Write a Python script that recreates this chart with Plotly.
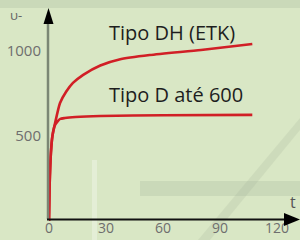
import plotly.graph_objects as go

# ---- data ----
t_dh = [0, 0.3, 1.0, 1.8, 3.2, 5.8, 9, 12.6, 18, 27, 37, 53, 80, 107]
v_dh = [0, 200, 400, 500, 576, 694, 760, 812, 860, 915, 950, 976, 1006, 1041]

t_d = [0, 0.3, 1.0, 1.8, 3.2, 5.8, 8.4, 14, 27, 60, 107]
v_d = [0, 200, 400, 500, 565, 600, 606, 612, 618, 622, 624]

x_ticks = [0, 30, 60, 90, 120]
y_ticks = [500, 1000]
label_dh = "Tipo DH (ETK)"
label_d = "Tipo D até 600"

W, H = 300, 240
L, R, T, B = 49, 4, 0, 19
RED = "#d11f26"
BG = "#d9e7c5"


def px(xp):
    return (xp - L) / (W - L - R)


def py(yp):
    return (H - B - yp) / (H - T - B)


fig = go.Figure()
fig.add_trace(go.Scatter(x=t_dh, y=v_dh, mode="lines",
                         line=dict(color=RED, width=2.6, shape="spline", smoothing=0.6),
                         hoverinfo="skip"))
fig.add_trace(go.Scatter(x=t_d, y=v_d, mode="lines",
                         line=dict(color=RED, width=2.6, shape="spline", smoothing=0.6),
                         hoverinfo="skip"))

shapes = []
# faint background texture
shapes.append(dict(type="rect", xref="paper", yref="paper", x0=px(0), x1=px(300),
                   y0=py(8), y1=py(0), fillcolor="rgba(170,185,160,0.3)", line_width=0, layer="below"))
shapes.append(dict(type="rect", xref="paper", yref="paper", x0=px(140), x1=px(300),
                   y0=py(196), y1=py(181), fillcolor="rgba(160,175,150,0.25)", line_width=0, layer="below"))
shapes.append(dict(type="path", xref="paper", yref="paper",
                   path=f"M {px(198)} {py(240)} L {px(300)} {py(118)} L {px(300)} {py(130)} L {px(210)} {py(240)} Z",
                   fillcolor="rgba(160,175,150,0.2)", line_width=0, layer="below"))
shapes.append(dict(type="rect", xref="paper", yref="paper", x0=px(92), x1=px(97),
                   y0=py(240), y1=py(160), fillcolor="rgba(255,255,255,0.3)", line_width=0, layer="below"))
# y axis line and arrow
shapes.append(dict(type="line", xref="paper", yref="paper", x0=px(48), x1=px(48),
                   y0=py(219), y1=py(22), line=dict(color="#7b8774", width=2.5)))
shapes.append(dict(type="path", xref="paper", yref="paper",
                   path=f"M {px(48.5)} {py(8)} L {px(53.5)} {py(24)} L {px(43.5)} {py(24)} Z",
                   fillcolor="#000000", line_width=0))
# x axis line and arrow
shapes.append(dict(type="line", xref="paper", yref="paper", x0=px(47), x1=px(287),
                   y0=py(219.5), y1=py(219.5), line=dict(color="#111111", width=2)))
shapes.append(dict(type="path", xref="paper", yref="paper",
                   path=f"M {px(300)} {py(219.5)} L {px(284)} {py(213)} L {px(284)} {py(226)} Z",
                   fillcolor="#000000", line_width=0))

annotations = [
    dict(x=t_dh[9] + 3.5, y=1106, xref="x", yref="y", text=label_dh, showarrow=False,
         xanchor="left", yanchor="middle",
         font=dict(family="Open Sans", size=20, color="#1e1e1e")),
    dict(x=t_dh[9] + 3.5, y=747, xref="x", yref="y", text=label_d, showarrow=False,
         xanchor="left", yanchor="middle",
         font=dict(family="Open Sans", size=20, color="#1e1e1e")),
    dict(x=px(293), y=py(202), xref="paper", yref="paper", text="t", showarrow=False,
         xanchor="center", yanchor="middle",
         font=dict(family="Open Sans", size=16, color="#555555")),
    dict(x=px(16), y=py(15), xref="paper", yref="paper", text="υ-", showarrow=False,
         xanchor="center", yanchor="middle",
         font=dict(family="Open Sans", size=13, color="#666666")),
]

fig.update_layout(
    width=W, height=H,
    margin=dict(l=L, r=R, t=T, b=B, pad=0, autoexpand=False),
    paper_bgcolor=BG, plot_bgcolor=BG,
    showlegend=False,
    shapes=shapes,
    annotations=annotations,
    xaxis=dict(range=[0, 130], tickvals=x_ticks, ticktext=[str(v) for v in x_ticks],
               showgrid=False, zeroline=False, showline=False, automargin=False,
               ticks="", ticklabelstandoff=-3,
               tickfont=dict(family="Open Sans", size=14, color="#6e6e6e")),
    yaxis=dict(range=[0, 1300], tickvals=y_ticks, ticktext=[str(v) for v in y_ticks],
               showgrid=False, zeroline=False, showline=False, automargin=False,
               ticks="outside", ticklen=4, tickcolor="rgba(0,0,0,0)",
               tickfont=dict(family="Open Sans", size=15, color="#6e6e6e")),
)

fig.write_html("out.html", config={"displayModeBar": False},
               post_script="document.body.style.margin='0';document.body.style.padding='0';"
                           "document.body.style.background='" + BG + "';")
